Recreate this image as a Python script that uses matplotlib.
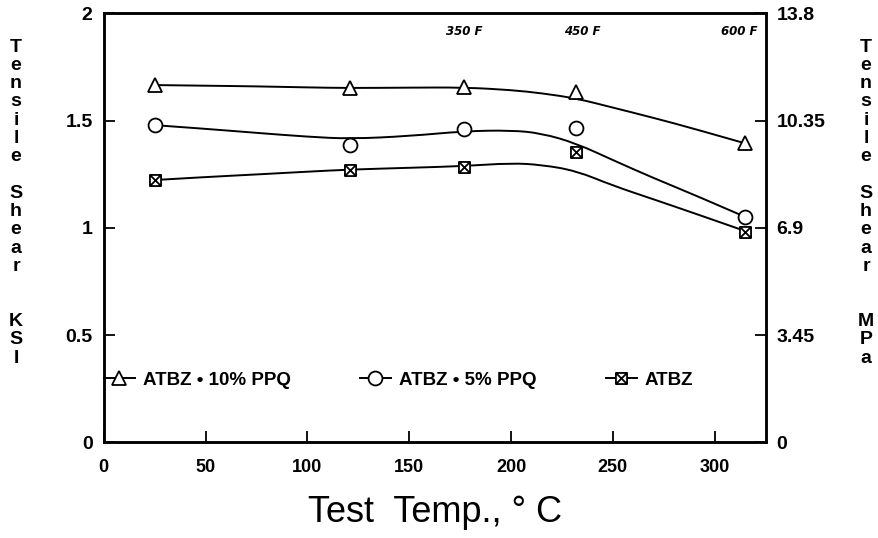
import numpy as np
import matplotlib
matplotlib.use("Agg")
import matplotlib.pyplot as plt
from matplotlib.path import Path
from matplotlib.patches import PathPatch
from matplotlib.lines import Line2D

# ---- data: measured points ----
temps_c = [25, 121, 177, 232, 315]
atbz_10ppq = [1.666, 1.652, 1.657, 1.632, 1.394]
atbz_5ppq = [1.479, 1.386, 1.459, 1.464, 1.051]
atbz = [1.223, 1.272, 1.283, 1.355, 0.981]

# ---- data: hand-drawn trend curves ----
curve_temps = [25, 50, 75, 100, 121, 150, 177, 200, 215, 232, 250, 270, 290, 315]
curve_10ppq = [1.666, 1.663, 1.660, 1.655, 1.652, 1.654, 1.655, 1.643, 1.628, 1.604,
               1.561, 1.513, 1.462, 1.394]
curve_5ppq = [1.479, 1.462, 1.443, 1.425, 1.415, 1.428, 1.451, 1.455, 1.441, 1.394,
              1.316, 1.232, 1.154, 1.051]
curve_atbz = [1.223, 1.237, 1.249, 1.262, 1.272, 1.280, 1.288, 1.302, 1.294, 1.266,
              1.197, 1.133, 1.068, 0.985]

series_labels = ["ATBZ \u2022 10% PPQ", "ATBZ \u2022 5% PPQ", "ATBZ"]
f_labels = ["350 F", "450 F", "600 F"]
f_label_pos_c = [177, 235, 312]
left_ticks = [0, 0.5, 1, 1.5, 2]
left_ticklabels = ["0", "0.5", "1", "1.5", "2"]
right_ticks = [0, 3.45, 6.9, 10.35, 13.8]
right_ticklabels = ["0", "3.45", "6.9", "10.35", "13.8"]
x_ticks = [0, 50, 100, 150, 200, 250, 300]

plt.rcParams['font.family'] = ['Liberation Sans', 'DejaVu Sans']

fig = plt.figure(figsize=(8.79, 5.38), dpi=100)
ax = fig.add_axes([0.118, 0.178, 0.753, 0.797])

# square with X marker
boxx = Path([(-1, -1), (1, -1), (1, 1), (-1, 1), (-1, -1), (-1, -1), (1, 1), (-1, 1), (1, -1)],
            [Path.MOVETO, Path.LINETO, Path.LINETO, Path.LINETO, Path.CLOSEPOLY,
             Path.MOVETO, Path.LINETO, Path.MOVETO, Path.LINETO])


def smooth_path(xv, yv):
    """Quadratic-Bezier chain using the read samples as control points."""
    p = np.column_stack([xv, yv]).astype(float)
    verts = [p[0]]
    codes = [Path.MOVETO]
    n = len(p)
    for i in range(1, n - 2):
        verts += [p[i], (p[i] + p[i + 1]) / 2]
        codes += [Path.CURVE3, Path.CURVE3]
    verts += [p[n - 2], p[n - 1]]
    codes += [Path.CURVE3, Path.CURVE3]
    return Path(verts, codes)


styles = [
    (atbz_10ppq, curve_10ppq, '^', 10),
    (atbz_5ppq, curve_5ppq, 'o', 10),
    (atbz, curve_atbz, boxx, 8),
]
handles = []
for (vals, cvals, mk, ms), lab in zip(styles, series_labels):
    ax.add_patch(PathPatch(smooth_path(curve_temps, cvals), fill=False,
                           edgecolor='black', lw=1.4, transform=ax.transData))
    ax.plot(temps_c, vals, linestyle='none', marker=mk, ms=ms, mfc='white',
            mec='black', mew=1.3, zorder=3)
    handles.append(Line2D([], [], color='black', lw=1.4, marker=mk, ms=ms, mfc='white',
                          mec='black', mew=1.3, label=lab))

ax.set_xlim(0, 325)
ax.set_ylim(0, 2)
ax.set_xticks(x_ticks)
ax.set_xticklabels([str(t) for t in x_ticks], fontsize=13, fontweight='bold')
ax.set_yticks(left_ticks)
ax.set_yticklabels(left_ticklabels, fontsize=14, fontweight='bold')
ax.tick_params(direction='in', length=8, width=1.3, pad=8)
ax.tick_params(axis='x', pad=12)
for s in ax.spines.values():
    s.set_linewidth(1.8)

ax2 = ax.twinx()
ax2.set_ylim(0, 13.8)
ax2.set_yticks(right_ticks)
ax2.set_yticklabels(right_ticklabels, fontsize=14, fontweight='bold')
ax2.tick_params(direction='in', length=8, width=1.3, pad=8)
for s in ax2.spines.values():
    s.set_linewidth(1.8)

for lab, xc in zip(f_labels, f_label_pos_c):
    ax.text(xc, 1.915, lab, ha='center', va='center', fontsize=8.5,
            fontweight='bold', fontstyle='italic', family='DejaVu Sans')

leg = ax.legend(handles=handles, loc='center left', bbox_to_anchor=(0.0, 0.145),
                ncol=3, frameon=False, prop={'size': 13.5, 'weight': 'bold'},
                handlelength=1.65, handletextpad=0.43, columnspacing=3.7,
                borderaxespad=0, borderpad=0)

ax.set_xlabel("Test  Temp., \u00b0 C", fontsize=26, labelpad=14)

# stacked vertical axis titles
left_letters = list("Tensile") + [""] + list("Shear") + ["", ""] + list("KSI")
right_letters = list("Tensile") + [""] + list("Shear") + ["", ""] + list("MPa")
y0 = 538 - 47
step = 18.3
for i, ch in enumerate(left_letters):
    if ch:
        fig.text(16 / 879, (y0 - i * step) / 538, ch, ha='center', va='center',
                 fontsize=14, fontweight='bold')
for i, ch in enumerate(right_letters):
    if ch:
        fig.text(866 / 879, (y0 - i * step) / 538, ch, ha='center', va='center',
                 fontsize=14, fontweight='bold')

fig.savefig("out.png", dpi=100)
